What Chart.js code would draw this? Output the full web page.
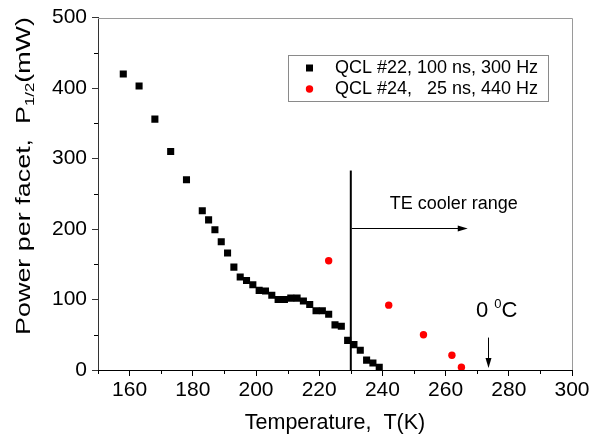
<!DOCTYPE html>
<html><head><meta charset="utf-8">
<script src="https://cdn.jsdelivr.net/npm/chart.js@4"></script>
<style>html,body{margin:0;padding:0;background:#fff}#wrap{width:604px;height:441px}</style>
</head><body><div id="wrap"><canvas id="c" width="604" height="441"></canvas></div>
<script>
// ---- data ----
const qcl22Temps = [158,163,168,173,178,183,185,187,189,191,193,195,197,199,201,203,205,207,209,211,213,215,217,219,221,223,225,227,229,231,233,235,237,239];
const qcl22Power = [420,403,356,310,270,226,213,199,182,166,146,132,127,121,113,112,106,100,100,102,102,98,93,84,84,79,64,62,42,36,28,14,10,4];
const qcl24Temps = [223,242,253,262,265];
const qcl24Power = [155,92,50,21,4];
const seriesLabels = ['QCL #22, 100 ns, 300 Hz', 'QCL #24,   25 ns, 440 Hz'];
const xMajorTicks = [160,180,200,220,240,260,280,300];
const xMinorTicks = [150,170,190,210,230,250,270,290];
const yMajorTicks = [0,100,200,300,400,500];
const yMinorTicks = [50,150,250,350,450];
const xTitle = 'Temperature,  T(K)';
const yTitleParts = ['Power per facet,  P', '1/2', '(mW)'];
const teLabel = 'TE cooler range';
const teLimitT = 230, teLineTop = 283, teArrowEndT = 267, teArrowP = 202, teLabelT = 242.3, teLabelP = 236;
const zeroCT = 273.4, zeroCArrowTop = 46, zeroCArrowTip = 3, zeroCLabelT = 269.6, zeroCLabelP = 75;

const FONT = "'Liberation Sans', Arial, sans-serif";

const pts = (xs, ys) => xs.map((x, i) => ({x, y: ys[i]}));

const minorTicks = {
  id: 'minorTicks',
  afterDraw(chart) {
    const {ctx, chartArea: a, scales: {x, y}} = chart;
    ctx.save();
    ctx.strokeStyle = '#000'; ctx.lineWidth = 1;
    ctx.beginPath();
    xMinorTicks.forEach(v => { const p = Math.round(x.getPixelForValue(v)) + 0.5; ctx.moveTo(p, a.bottom); ctx.lineTo(p, a.bottom + 4); });
    yMinorTicks.forEach(v => { const p = Math.round(y.getPixelForValue(v)) + 0.5; ctx.moveTo(a.left - 4, p); ctx.lineTo(a.left, p); });
    ctx.stroke();
    ctx.strokeStyle = '#9a9a9a';
    ctx.beginPath();
    ctx.moveTo(a.left, Math.round(a.top) + 0.5); ctx.lineTo(Math.round(a.right) + 0.5, Math.round(a.top) + 0.5);
    ctx.lineTo(Math.round(a.right) + 0.5, a.bottom);
    ctx.stroke();
    ctx.restore();
  }
};

const annotations = {
  id: 'annots',
  afterDatasetsDraw(chart) {
    const {ctx, scales: {x, y}} = chart;
    ctx.save();
    const vx = x.getPixelForValue(teLimitT);
    ctx.strokeStyle = '#000'; ctx.lineWidth = 2;
    ctx.beginPath(); ctx.moveTo(vx, y.getPixelForValue(0)); ctx.lineTo(vx, y.getPixelForValue(teLineTop)); ctx.stroke();
    const ay = Math.round(y.getPixelForValue(teArrowP)) + 0.5;
    const ax2 = x.getPixelForValue(teArrowEndT);
    ctx.lineWidth = 1;
    ctx.beginPath(); ctx.moveTo(vx + 1, ay); ctx.lineTo(ax2 - 6, ay); ctx.stroke();
    ctx.fillStyle = '#000';
    ctx.beginPath(); ctx.moveTo(ax2, ay); ctx.lineTo(ax2 - 10, ay - 3); ctx.lineTo(ax2 - 10, ay + 3); ctx.closePath(); ctx.fill();
    ctx.font = '18px ' + FONT; ctx.textBaseline = 'middle'; ctx.textAlign = 'left';
    ctx.fillText(teLabel, x.getPixelForValue(teLabelT), y.getPixelForValue(teLabelP));
    const zx = Math.round(x.getPixelForValue(zeroCT)) + 0.5;
    const zt = y.getPixelForValue(zeroCArrowTop), zb = y.getPixelForValue(zeroCArrowTip);
    ctx.beginPath(); ctx.moveTo(zx, zt); ctx.lineTo(zx, zb - 6); ctx.stroke();
    ctx.beginPath(); ctx.moveTo(zx, zb); ctx.lineTo(zx - 3, zb - 10); ctx.lineTo(zx + 3, zb - 10); ctx.closePath(); ctx.fill();
    let lx = x.getPixelForValue(zeroCLabelT);
    const ly = y.getPixelForValue(zeroCLabelP);
    ctx.textBaseline = 'alphabetic';
    ctx.font = '22px ' + FONT;
    ctx.fillText('0 ', lx, ly); lx += ctx.measureText('0 ').width;
    ctx.font = '13px ' + FONT;
    ctx.fillText('0', lx, ly - 9); lx += ctx.measureText('0').width;
    ctx.font = '22px ' + FONT;
    ctx.fillText('C', lx, ly);
    ctx.restore();
  }
};

const yTitle = {
  id: 'yTitle',
  afterDraw(chart) {
    const {ctx} = chart;
    ctx.save();
    const mainF = '21px ' + FONT, subF = '13px ' + FONT;
    ctx.font = mainF; const w0 = ctx.measureText(yTitleParts[0]).width, w2 = ctx.measureText(yTitleParts[2]).width;
    ctx.font = subF; const w1 = ctx.measureText(yTitleParts[1]).width;
    const total = w0 + w1 + w2;
    const span = 318, cy = 176;
    ctx.translate(30, cy); ctx.rotate(-Math.PI / 2);
    ctx.scale(span / total, 1);
    ctx.fillStyle = '#000'; ctx.textBaseline = 'alphabetic'; ctx.textAlign = 'left';
    let px = -total / 2;
    ctx.font = mainF; ctx.fillText(yTitleParts[0], px, 0); px += w0;
    ctx.font = subF; ctx.fillText(yTitleParts[1], px, 4); px += w1;
    ctx.font = mainF; ctx.fillText(yTitleParts[2], px, 0);
    ctx.restore();
  }
};

const boxLegend = {
  id: 'boxLegend',
  afterDraw(chart) {
    const {ctx} = chart;
    ctx.save();
    ctx.strokeStyle = '#8a8a8a'; ctx.lineWidth = 1;
    ctx.strokeRect(288.5, 55.5, 260, 46);
    ctx.font = '18px ' + FONT; ctx.textBaseline = 'middle'; ctx.fillStyle = '#000';
    chart.data.datasets.forEach((ds, i) => {
      const yy = 68 + i * 21;
      ctx.fillStyle = ds.backgroundColor;
      if (ds.pointStyle === 'rect') ctx.fillRect(306, yy - 3.5, 7, 7);
      else { ctx.beginPath(); ctx.arc(309.5, yy, 3.7, 0, Math.PI * 2); ctx.fill(); }
      ctx.fillStyle = '#000';
      ctx.fillText(ds.label, 335, yy);
    });
    ctx.restore();
  }
};

new Chart(document.getElementById('c'), {
  type: 'scatter',
  data: {
    datasets: [
      {label: seriesLabels[0], data: pts(qcl22Temps, qcl22Power), pointStyle: 'rect', pointRadius: 5, backgroundColor: '#000', borderColor: '#000', borderWidth: 0},
      {label: seriesLabels[1], data: pts(qcl24Temps, qcl24Power), pointStyle: 'circle', pointRadius: 3.7, backgroundColor: '#ff0000', borderColor: '#ff0000', borderWidth: 0}
    ]
  },
  options: {
    responsive: false, animation: false, devicePixelRatio: 1,
    layout: {padding: {top: 17, right: 32, left: 0, bottom: 0}},
    plugins: {legend: {display: false}, tooltip: {enabled: false}, title: {display: false}},
    scales: {
      x: {
        type: 'linear', min: 150, max: 300,
        afterBuildTicks: s => { s.ticks = xMajorTicks.map(v => ({value: v})); },
        afterFit: s => { s.height = 71; },
        ticks: {autoSkip: false, maxRotation: 0, padding: 2, color: '#000', font: {family: FONT, size: 21}, callback: v => String(v)},
        grid: {drawOnChartArea: false, drawTicks: true, tickLength: 6, color: '#000'},
        border: {display: true, color: '#000', width: 1},
        title: {display: true, text: xTitle, color: '#000', font: {family: FONT, size: 21.5}, padding: {top: 0, bottom: 5}}
      },
      y: {
        type: 'linear', min: 0, max: 500,
        afterBuildTicks: s => { s.ticks = yMajorTicks.map(v => ({value: v})); },
        afterFit: s => { s.width = 98; },
        ticks: {autoSkip: false, padding: 5, color: '#000', font: {family: FONT, size: 21}, callback: v => String(v)},
        grid: {drawOnChartArea: false, drawTicks: true, tickLength: 6, color: '#333'},
        border: {display: true, color: '#333', width: 1}
      }
    }
  },
  plugins: [minorTicks, annotations, yTitle, boxLegend]
});
</script>
</body></html>
